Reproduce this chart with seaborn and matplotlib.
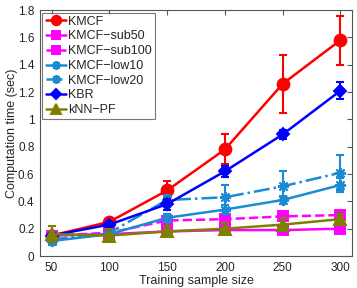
import numpy as np
import pandas as pd
import seaborn as sns
import matplotlib.pyplot as plt

sizes = [50, 100, 150, 200, 250, 300]

kmcf = [0.15, 0.25, 0.48, 0.78, 1.26, 1.58]
kmcf_err = [0.03, 0.03, 0.07, 0.11, 0.21, 0.18]
kmcf_sub50 = [0.15, 0.16, 0.18, 0.19, 0.19, 0.20]
kmcf_sub50_err = [0.02, 0.02, 0.03, 0.03, 0.02, 0.02]
kmcf_sub100 = [0.15, 0.17, 0.26, 0.27, 0.29, 0.30]
kmcf_sub100_err = [0.02, 0.02, 0.02, 0.02, 0.02, 0.03]
kmcf_low10 = [0.11, 0.16, 0.28, 0.34, 0.41, 0.52]
kmcf_low10_err = [0.03, 0.02, 0.03, 0.03, 0.03, 0.05]
kmcf_low20 = [0.12, 0.17, 0.41, 0.43, 0.51, 0.61]
kmcf_low20_err = [0.03, 0.03, 0.04, 0.09, 0.11, 0.13]
kbr = [0.15, 0.23, 0.38, 0.62, 0.89, 1.21]
kbr_err = [0.02, 0.02, 0.04, 0.04, 0.03, 0.06]
knn_pf = [0.16, 0.15, 0.18, 0.20, 0.23, 0.27]
knn_pf_err = [0.06, 0.05, 0.04, 0.04, 0.05, 0.04]

names = ["KMCF", "KMCF\u2212sub50", "KMCF\u2212sub100", "KMCF\u2212low10",
         "KMCF\u2212low20", "KBR", "kNN\u2212PF"]
values = [kmcf, kmcf_sub50, kmcf_sub100, kmcf_low10, kmcf_low20, kbr, knn_pf]
errors = [kmcf_err, kmcf_sub50_err, kmcf_sub100_err, kmcf_low10_err,
          kmcf_low20_err, kbr_err, knn_pf_err]

colors = ["#ff0000", "#ff00ff", "#ff00ff", "#1b8bd3", "#1b8bd3", "#0000ff", "#808000"]
markers = ["o", "s", "s", (8, 2, 0), (8, 2, 0), "D", "^"]
styles = ["-", "-", "--", "-", "-.", "-", "-"]
msizes = [8.5, 7, 7, 8, 8, 6.5, 8.5]

sns.set_style("white")
plt.rcParams['font.family'] = ['Liberation Sans', 'DejaVu Sans']

fig, ax = plt.subplots(figsize=(3.57, 2.88), dpi=100)

for name, v, e, c, m, ls, ms in zip(names, values, errors, colors, markers, styles, msizes):
    df = pd.DataFrame({"size": sizes, "time": v})
    sns.lineplot(data=df, x="size", y="time", ax=ax, color=c, marker=m,
                 linestyle=ls, linewidth=1.8, markersize=ms, markeredgewidth=1.4,
                 markeredgecolor=c, label=name)
    ax.errorbar(sizes, v, yerr=e, fmt="none", ecolor=c, elinewidth=1.5,
                capsize=3, capthick=1.5)

ax.set_xlim(40, 310)
ax.set_ylim(0, 1.8)
ax.set_xticks(sizes)
ax.set_yticks(np.arange(0, 1.81, 0.2))
ax.set_yticklabels(["0", "0.2", "0.4", "0.6", "0.8", "1", "1.2", "1.4", "1.6", "1.8"])
ax.tick_params(direction="in", top=True, right=True, labelsize=8.5, length=3.5,
               color="#555555", pad=4)
ax.set_xlabel("Training sample size", fontsize=9, labelpad=1)
ax.set_ylabel("Computation time (sec)", fontsize=9, labelpad=0)
for s in ax.spines.values():
    s.set_color("#555555")
    s.set_linewidth(0.8)

leg = ax.legend(loc="upper left", fontsize=9, frameon=True, fancybox=False,
                handlelength=1.6, borderpad=0.25, labelspacing=0.22,
                handletextpad=0.2, borderaxespad=0.2, markerscale=0.8)
leg.get_frame().set_edgecolor("#555555")
leg.get_frame().set_linewidth(0.8)

fig.subplots_adjust(left=0.112, right=0.986, top=0.965, bottom=0.111)
fig.savefig("out.png", dpi=100)
